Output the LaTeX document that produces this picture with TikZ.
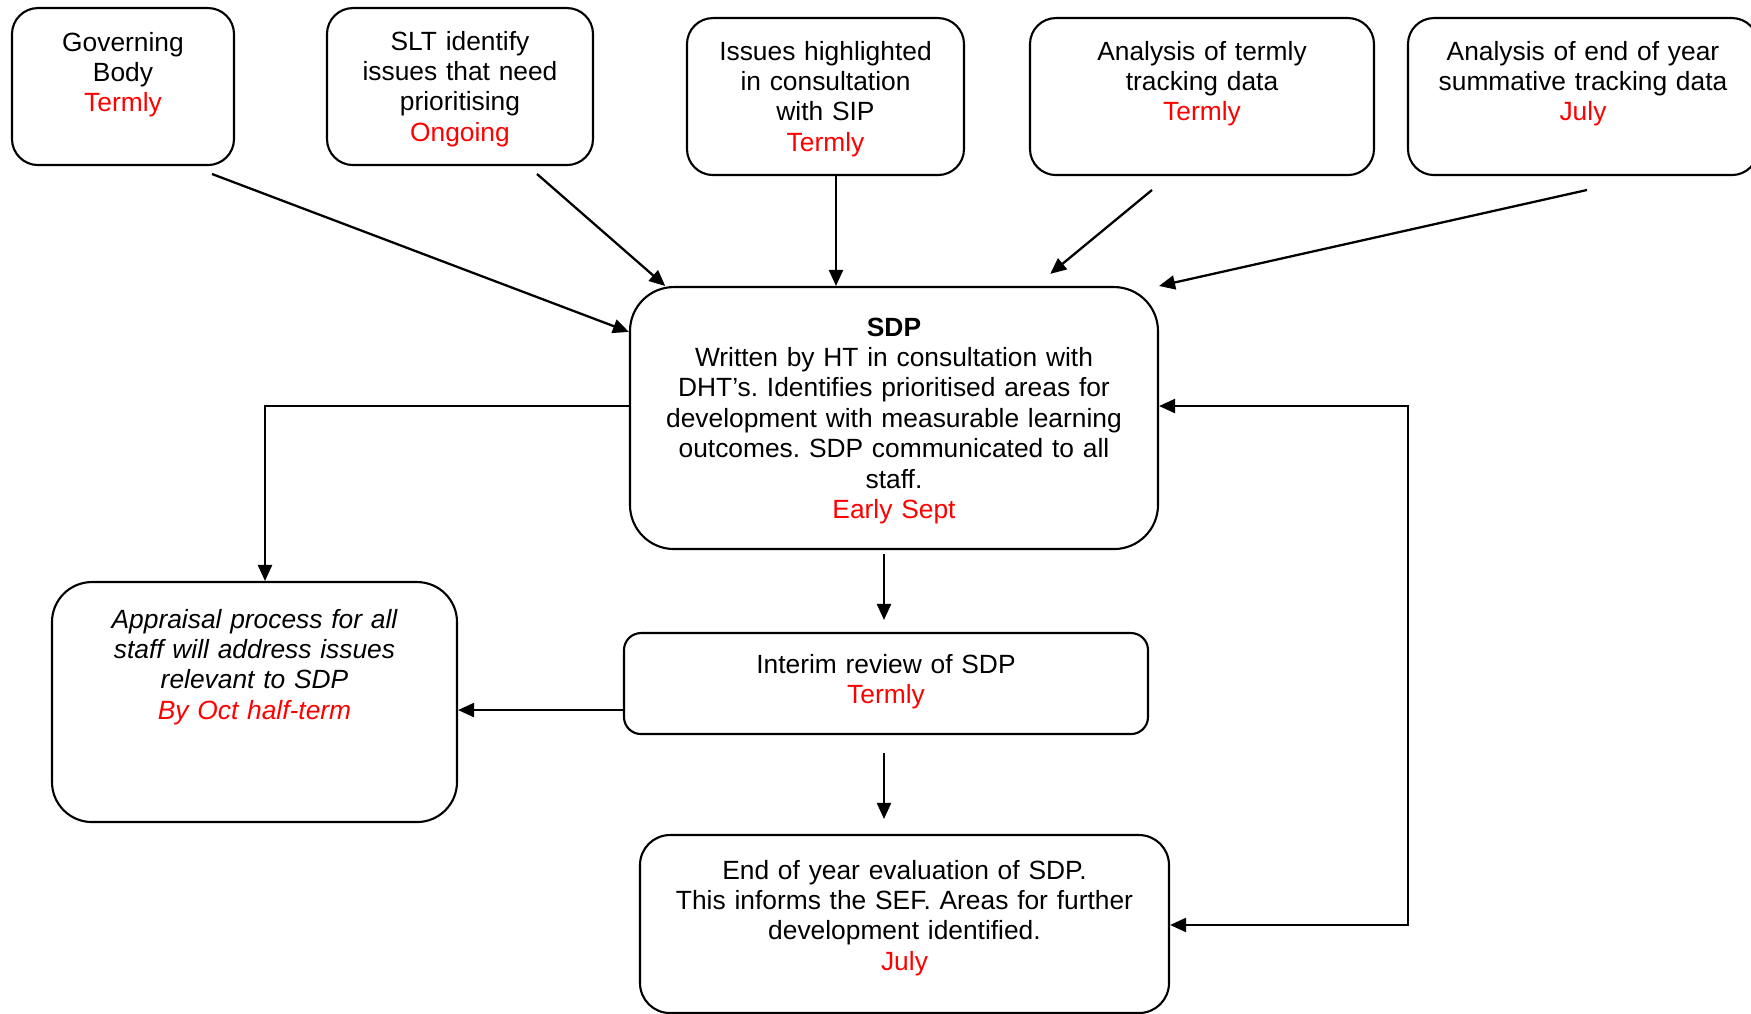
\documentclass[tikz,border=0pt]{standalone}
\usepackage{fontspec}
\setmainfont{Liberation Sans}
\usepackage{tikz}
\usetikzlibrary{arrows.meta}
\frenchspacing
\newcommand{\when}[1]{\textcolor{red}{#1}}

\begin{document}
\begin{tikzpicture}[y=-1cm,>={Triangle[length=1.6mm,width=1.4mm]}]
  \tikzstyle{BoxStyle}=[draw,line width=0.6pt,align=center,anchor=north,
    inner xsep=0pt,inner ysep=0pt,font=\fontsize{7.5}{8.65}\selectfont]
  \tikzstyle{EdgeStyle}=[->,line width=0.65pt]
  \useasboundingbox (0,0) rectangle (17.51,10.14);
  % top row
  \node[BoxStyle,rounded corners=0.26cm,text width=2.22cm,text height=0.43cm,text depth=1.14cm]
    (gov) at (1.23,0.07) {Governing\\Body\\\when{Termly}};
  \node[BoxStyle,rounded corners=0.26cm,text width=2.66cm,text height=0.42cm,text depth=1.15cm]
    (slt) at (4.60,0.07) {SLT identify\\issues that need\\prioritising\\\when{Ongoing}};
  \node[BoxStyle,rounded corners=0.26cm,text width=2.77cm,text height=0.42cm,text depth=1.15cm]
    (sip) at (8.255,0.17) {Issues highlighted\\in consultation\\with SIP\\\when{Termly}};
  \node[BoxStyle,rounded corners=0.26cm,text width=3.44cm,text height=0.42cm,text depth=1.15cm]
    (trk) at (12.02,0.17) {Analysis of termly\\tracking data\\\when{Termly}};
  \node[BoxStyle,rounded corners=0.26cm,text width=3.50cm,text height=0.42cm,text depth=1.15cm]
    (sum) at (15.83,0.17) {Analysis of end of year\\summative tracking data\\\when{July}};
  % plan and reviews
  \node[BoxStyle,rounded corners=0.44cm,text width=5.28cm,text height=0.49cm,text depth=2.13cm]
    (sdp) at (8.94,2.86) {\textbf{SDP}\\Written by HT in consultation with\\DHT’s. Identifies prioritised areas for\\development with measurable learning\\outcomes. SDP communicated to all\\staff.\\\when{Early Sept}};
  \node[BoxStyle,rounded corners=0.40cm,text width=4.05cm,text height=0.46cm,text depth=1.94cm,
    font=\fontsize{7.5}{8.65}\selectfont\itshape]
    (apr) at (2.545,5.81) {Appraisal process for all\\staff will address issues\\relevant to SDP\\\when{By Oct half-term}};
  \node[BoxStyle,rounded corners=0.17cm,text width=5.24cm,text height=0.40cm,text depth=0.61cm]
    (rev) at (8.86,6.32) {Interim review of SDP\\\when{Termly}};
  \node[BoxStyle,rounded corners=0.30cm,text width=5.29cm,text height=0.44cm,text depth=1.34cm]
    (eoy) at (9.045,8.34) {End of year evaluation of SDP.\\This informs the SEF. Areas for further\\development identified.\\\when{July}};
  % loose ends
  \coordinate (govout) at (2.12,1.74);
  \coordinate (sltout) at (5.37,1.74);
  \coordinate (sipout) at (8.36,1.74);
  \coordinate (trkout) at (11.52,1.90);
  \coordinate (sumout) at (15.87,1.90);
  \coordinate (sdpdown) at (8.84,5.48);
  \coordinate (revdown) at (8.84,7.33);
  \coordinate (revleft) at ([shift={(0,0.265)}]rev.west);
  \coordinate (sdpright) at ([shift={(0,-0.12)}]sdp.east);
  \coordinate (back) at (14.08,9.25);
  \draw[EdgeStyle] (govout) -- (sdp.162);
  \draw[EdgeStyle] (sltout) -- (sdp.150);
  \draw[EdgeStyle] (sipout) -- (sipout |- sdp.north);
  \draw[EdgeStyle,shorten >=0.19cm] (trkout) -- (sdp.43);
  \draw[EdgeStyle] (sumout) -- (sdp.north east);
  \draw[EdgeStyle] ([shift={(0,-0.12)}]sdp.west) -| ([shift={(0.105,0)}]apr.north);
  \draw[EdgeStyle,shorten <=0.06cm,shorten >=0.12cm] (sdpdown) -- (sdpdown |- rev.north);
  \draw[EdgeStyle] (revleft) -- (revleft -| apr.east);
  \draw[EdgeStyle,shorten <=0.20cm,shorten >=0.15cm] (revdown) -- (revdown |- eoy.north);
  \draw[EdgeStyle,<->] (sdpright) -| (back) -- (back -| eoy.east);
\end{tikzpicture}
\end{document}
